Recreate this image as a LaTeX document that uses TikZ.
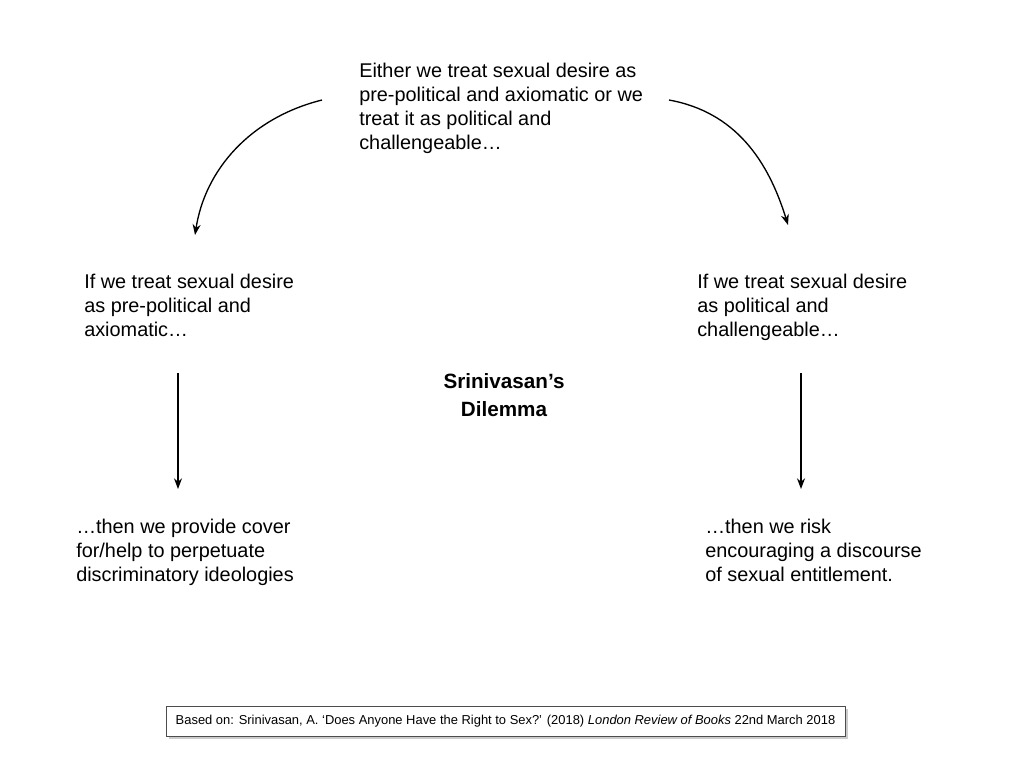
\documentclass[tikz,border=0pt]{standalone}
\usepackage{fontspec}
\setmainfont{Liberation Sans}
\usetikzlibrary{arrows.meta,shadows}
\begin{document}
\begin{tikzpicture}[x=0.75pt,y=-0.75pt,
  txt/.style={anchor=north west,inner sep=0pt,align=left,font=\fontsize{14.9}{18}\selectfont},
  arr/.style={-{Stealth[length=8pt,width=6pt]},line width=1pt}]
\useasboundingbox (0,0) rectangle (1024,768);
\node[txt] (top) at (359,63) {Either we treat sexual desire as\\pre-political and axiomatic or we\\treat it as political and\\challengeable…};
\node[txt] (l1) at (84,274) {If we treat sexual desire\\as pre-political and\\axiomatic…};
\node[txt] (r1) at (697,274) {If we treat sexual desire\\as political and\\challengeable…};
\node[txt] (l2) at (76,519) {…then we provide cover\\for/help to perpetuate\\discriminatory ideologies};
\node[txt] (r2) at (705,519) {…then we risk\\encouraging a discourse\\of sexual entitlement.};
\node[align=center,inner sep=0pt,font=\fontsize{15.5}{21.5}\selectfont\bfseries] (title) at (504,395) {Srinivasan’s\\Dilemma};
\coordinate (a1) at (322,100); \coordinate (a2) at (195,235);
\coordinate (b1) at (669,100); \coordinate (b2) at (788,225);
\coordinate (c1) at (178,373); \coordinate (c2) at (178,489);
\coordinate (d1) at (801,373); \coordinate (d2) at (801,489);
\draw[arr] (a1) .. controls (250,118) and (205,170) .. (a2);
\draw[arr] (b1) .. controls (735,112) and (768,160) .. (b2);
\draw[arr] (c1) -- (c2);
\draw[arr] (d1) -- (d2);
\node[draw=black!70,fill=white,drop shadow={shadow xshift=2pt,shadow yshift=-2pt,opacity=0.4},minimum width=679*0.75pt,minimum height=30*0.75pt,inner sep=0pt,font=\fontsize{9.7}{11}\selectfont] (cap) at (505.5,721) {Based on: Srinivasan, A. ‘Does Anyone Have the Right to Sex?’ (2018) \textit{London Review of Books} 22nd March 2018};
\end{tikzpicture}
\end{document}
